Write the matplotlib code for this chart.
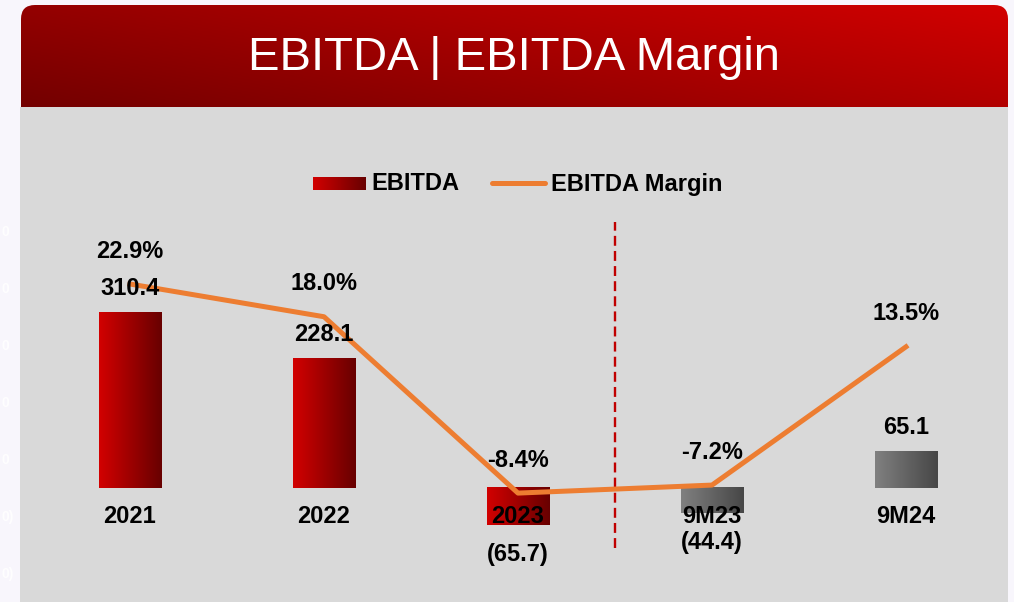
import numpy as np
import matplotlib
matplotlib.use("Agg")
import matplotlib.pyplot as plt
from matplotlib.colors import LinearSegmentedColormap
from matplotlib.patches import FancyBboxPatch, Rectangle

plt.rcParams['font.family'] = ['Liberation Sans', 'DejaVu Sans']

# --- data ---
periods = ['2021', '2022', '2023', '9M23', '9M24']
ebitda = [310.4, 228.1, -65.7, -44.4, 65.1]
margin = [22.9, 18.0, -8.4, -7.2, 13.5]
interim = [False, False, False, True, True]
# leftover tick fragments visible at the left edge of the slide
ghost_ticks = ['0', '0', '0', '0', '0', '0)', '0)']

W, H = 1014, 602
fig = plt.figure(figsize=(W / 100, H / 100), dpi=100)
fig.patch.set_facecolor('#f8f6fc')

red_bar = LinearSegmentedColormap.from_list('red_bar', ['#d20000', '#680000'])
gray_bar = LinearSegmentedColormap.from_list('gray_bar', ['#808080', '#474747'])
red_head = LinearSegmentedColormap.from_list('red_head', ['#6a0000', '#d20000'])
hgrad = np.linspace(0, 1, 100).reshape(1, -1)

# --- background layer, pixel coordinates ---
bg = fig.add_axes([0, 0, 1, 1])
bg.axis('off')

clip = FancyBboxPatch((21, 5), 987, 130, boxstyle='round,pad=0,rounding_size=14',
                      facecolor='none', edgecolor='none')
bg.add_patch(clip)
gx, gy = np.meshgrid(np.linspace(0, 1, 300), np.linspace(0, 1, 60))
head = bg.imshow(0.6 * gx + 0.4 * (1 - gy), cmap=red_head, extent=[21, 1008, 135, 5],
                 aspect='auto', zorder=1)
head.set_clip_path(clip)
bg.add_patch(Rectangle((20, 107), 988, 500, facecolor='#d9d9d9', edgecolor='none', zorder=2))
bg.text(514, 58, 'EBITDA | EBITDA Margin', color='white', fontsize=34,
        ha='center', va='center', zorder=3)

for i, lab in enumerate(ghost_ticks):
    bg.text(1, 232 + 57 * i, lab, color='white', alpha=0.9,
            fontsize=10, fontweight='bold', ha='left', va='center', zorder=3)

# legend
bg.imshow(hgrad, cmap=red_bar, extent=[313, 366, 190, 177], aspect='auto', zorder=3)
bg.text(371, 184, 'EBITDA', fontsize=17, fontweight='bold', va='center', zorder=3)
bg.plot([492, 545], [183, 183], color='#ed7d31', lw=3.6, solid_capstyle='round', zorder=3)
bg.text(551, 184, 'EBITDA Margin', fontsize=17, fontweight='bold', va='center', zorder=3)
bg.set_xlim(0, W)
bg.set_ylim(H, 0)

# --- main chart ---
ax = fig.add_axes([33 / W, (H - 580) / H, 970 / W, 365 / H])
ax.set_facecolor('none')
x = np.arange(len(periods))
bars = ax.bar(x, ebitda, width=0.32, color='none', zorder=2)
for bar, is_9m in zip(bars, interim):
    bb = bar.get_bbox()
    ax.imshow(hgrad, cmap=gray_bar if is_9m else red_bar, aspect='auto', zorder=2,
              extent=[bb.x0, bb.x1, min(bb.y0, bb.y1), max(bb.y0, bb.y1)])

for xi, p in zip(x, periods):
    ax.annotate(p, (xi, 0), xytext=(0, -28), textcoords='offset pixels',
                ha='center', va='center', fontsize=17, fontweight='bold', zorder=4)

# divider between full years and nine-month periods
ax.axvline(2.5, ymin=0.088, ymax=0.981, color='#c00000', lw=1.7,
           ls=(0, (4.2, 2.2)), zorder=1)

ax.set_xlim(-0.5, 4.5)
ax.set_ylim(-162.5, 482.3)
ax.axis('off')

ax2 = ax.twinx()
ax2.plot(x, margin, color='#ed7d31', lw=3.6, zorder=3)
for xi, m in zip(x, margin):
    ax2.annotate(f'{m:.1f}%', (xi, m), xytext=(0, 33), textcoords='offset pixels',
                 ha='center', va='center', fontsize=17, fontweight='bold')

# bar values sit above the margin line
for xi, v in zip(x, ebitda):
    lab = f'{v:.1f}' if v >= 0 else f'({abs(v):.1f})'
    ax2.annotate(lab, (xi, v), xycoords=ax.transData,
                 xytext=(0, 24 if v >= 0 else -29), textcoords='offset pixels',
                 ha='center', va='center', fontsize=17, fontweight='bold', zorder=5)
ax2.set_ylim(-21.41, 33.23)
ax2.axis('off')

fig.savefig('out.png', dpi=100, facecolor=fig.get_facecolor())
